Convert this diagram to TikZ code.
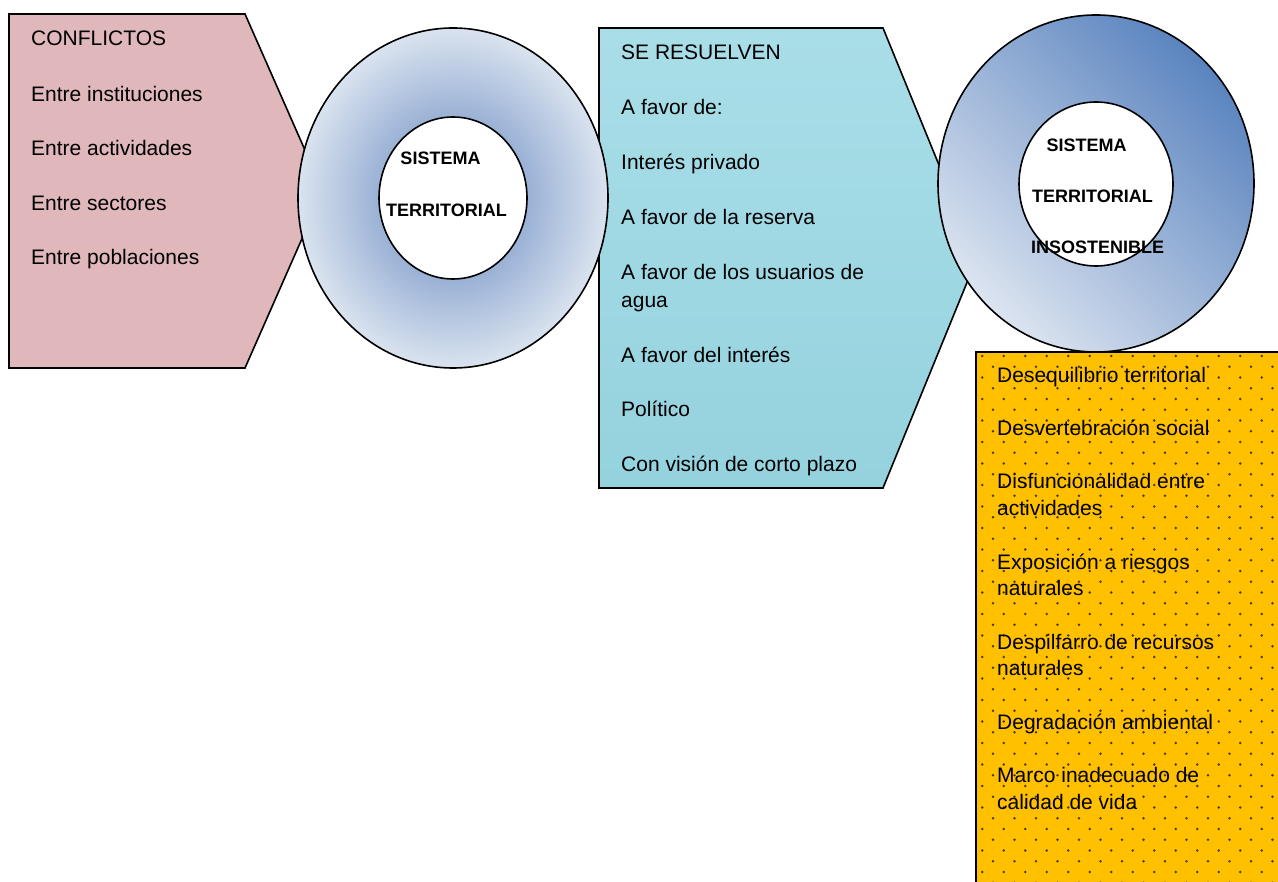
\documentclass[tikz,border=0pt]{standalone}
\usepackage{fontspec}
\setmainfont{Liberation Sans}
\usetikzlibrary{shapes.geometric}
\definecolor{pinkfill}{HTML}{E0B7BB}
\definecolor{waterfill}{HTML}{A9DEE8}
\definecolor{waterdark}{HTML}{94D2DE}
\definecolor{orangefill}{HTML}{FFC000}
\definecolor{dotc}{HTML}{4A3A10}
\definecolor{ringdark}{HTML}{5F84BE}
\definecolor{ringlight}{HTML}{DAE3EF}
\definecolor{ringtwodark}{HTML}{5A84BF}
\definecolor{ringtwomid}{HTML}{A3B7D7}
\definecolor{ringtwolight}{HTML}{DCE4F0}
\tikzset{
  outline/.style={draw=black, line width=1.6pt, line join=miter},
  txt/.style={font=\fontsize{21}{25}\selectfont, inner sep=0pt, anchor=base west, text=black},
  boldtxt/.style={font=\fontsize{18}{22}\selectfont\bfseries, inner sep=0pt, anchor=base, text=black},
  ringnode/.style={ellipse, draw=black, line width=1.6pt, inner sep=0pt},
}
\begin{document}
\begin{tikzpicture}[x=1pt,y=-1pt]
\clip (0,0) rectangle (1278,882);
\fill[white] (0,0) rectangle (1278,882);
% pink pentagon
\coordinate (p1) at (9,14);
\coordinate (p2) at (245,14);
\coordinate (p3) at (323,191);
\coordinate (p4) at (245,368);
\coordinate (p5) at (9,368);
\fill[pinkfill] (p1) -- (p2) -- (p3) -- (p4) -- (p5) -- cycle;
\draw[outline] (p1) -- (p2) -- (p3) -- (p4) -- (p5) -- cycle;
% water pentagon
\coordinate (w1) at (599,28);
\coordinate (w2) at (883,28);
\coordinate (w3) at (977,258);
\coordinate (w4) at (883,488);
\coordinate (w5) at (599,488);
\shade[top color=waterfill, bottom color=waterdark] (w1) -- (w2) -- (w3) -- (w4) -- (w5) -- cycle;
\draw[outline] (w1) -- (w2) -- (w3) -- (w4) -- (w5) -- cycle;
% orange dotted box
\coordinate (o1) at (976,352);
\coordinate (o2) at (1292,896);
\fill[orangefill] (o1) rectangle (o2);
\begin{scope}
\clip (o1) rectangle (o2);
\foreach \r in {0,...,49}{
  \pgfmathsetmacro\yy{356+10.75*\r}
  \pgfmathsetmacro\xo{982.3+mod(\r,2)*10.75}
  \foreach \c in {0,...,14}{
    \fill[dotc] (\xo+21.5*\c,\yy) circle (1.35);
  }
}
\end{scope}
\draw[outline] (o1) rectangle (o2);
% ring one
\node[ringnode, inner color=ringdark, outer color=ringlight, minimum width=310pt, minimum height=340pt] (ring1) at (453,198) {};
\node[ringnode, fill=white, minimum width=148pt, minimum height=162pt] (core1) at (453,198) {};
% ring two
\node[ringnode, top color=ringtwodark, middle color=ringtwomid, bottom color=ringtwolight, shading angle=-45, minimum width=316pt, minimum height=337pt] (ring2) at (1096,183.5) {};
\node[ringnode, fill=white, minimum width=154pt, minimum height=164pt] (core2) at (1096,184) {};
% pink texts
\node[txt] (t1) at (31,45.5) {CONFLICTOS};
\node[txt] (t2) at (31,101.5) {Entre instituciones};
\node[txt] (t3) at (31,155.5) {Entre actividades};
\node[txt] (t4) at (31,210.5) {Entre sectores};
\node[txt] (t5) at (31,264.5) {Entre poblaciones};
% ring one texts
\node[boldtxt] (s1) at (440.5,164.5) {SISTEMA};
\node[boldtxt] (s2) at (446.5,216.5) {TERRITORIAL};
% water texts
\node[txt] (w-a) at (621,59.5) {SE RESUELVEN};
\node[txt] (w-b) at (621,114.5) {A favor de:};
\node[txt] (w-c) at (621,169.5) {Interés privado};
\node[txt] (w-d) at (621,224.5) {A favor de la reserva};
\node[txt] (w-e) at (621,279.5) {A favor de los usuarios de};
\node[txt] (w-f) at (621,307.5) {agua};
\node[txt] (w-g) at (621,362.5) {A favor del interés};
\node[txt] (w-h) at (621,416.5) {Político};
\node[txt] (w-i) at (621,471.5) {Con visión de corto plazo};
% ring two texts
\node[boldtxt] (r1) at (1086.5,151.5) {SISTEMA};
\node[boldtxt] (r2) at (1092.5,202.5) {TERRITORIAL};
\node[boldtxt] (r3) at (1097.5,253.5) {INSOSTENIBLE};
% orange texts
\node[txt] (d1) at (997,382.5) {Desequilibrio territorial};
\node[txt] (d2) at (997,435.5) {Desvertebración social};
\node[txt] (d3) at (997,488.5) {Disfuncionalidad entre};
\node[txt] (d4) at (997,515.5) {actividades};
\node[txt] (d5) at (997,569.5) {Exposición a riesgos};
\node[txt] (d6) at (997,595.5) {naturales};
\node[txt] (d7) at (997,649.5) {Despilfarro de recursos};
\node[txt] (d8) at (997,675.5) {naturales};
\node[txt] (d9) at (997,729.5) {Degradación ambiental};
\node[txt] (d10) at (997,782.5) {Marco inadecuado de};
\node[txt] (d11) at (997,809.5) {calidad de vida};
\end{tikzpicture}
\end{document}
